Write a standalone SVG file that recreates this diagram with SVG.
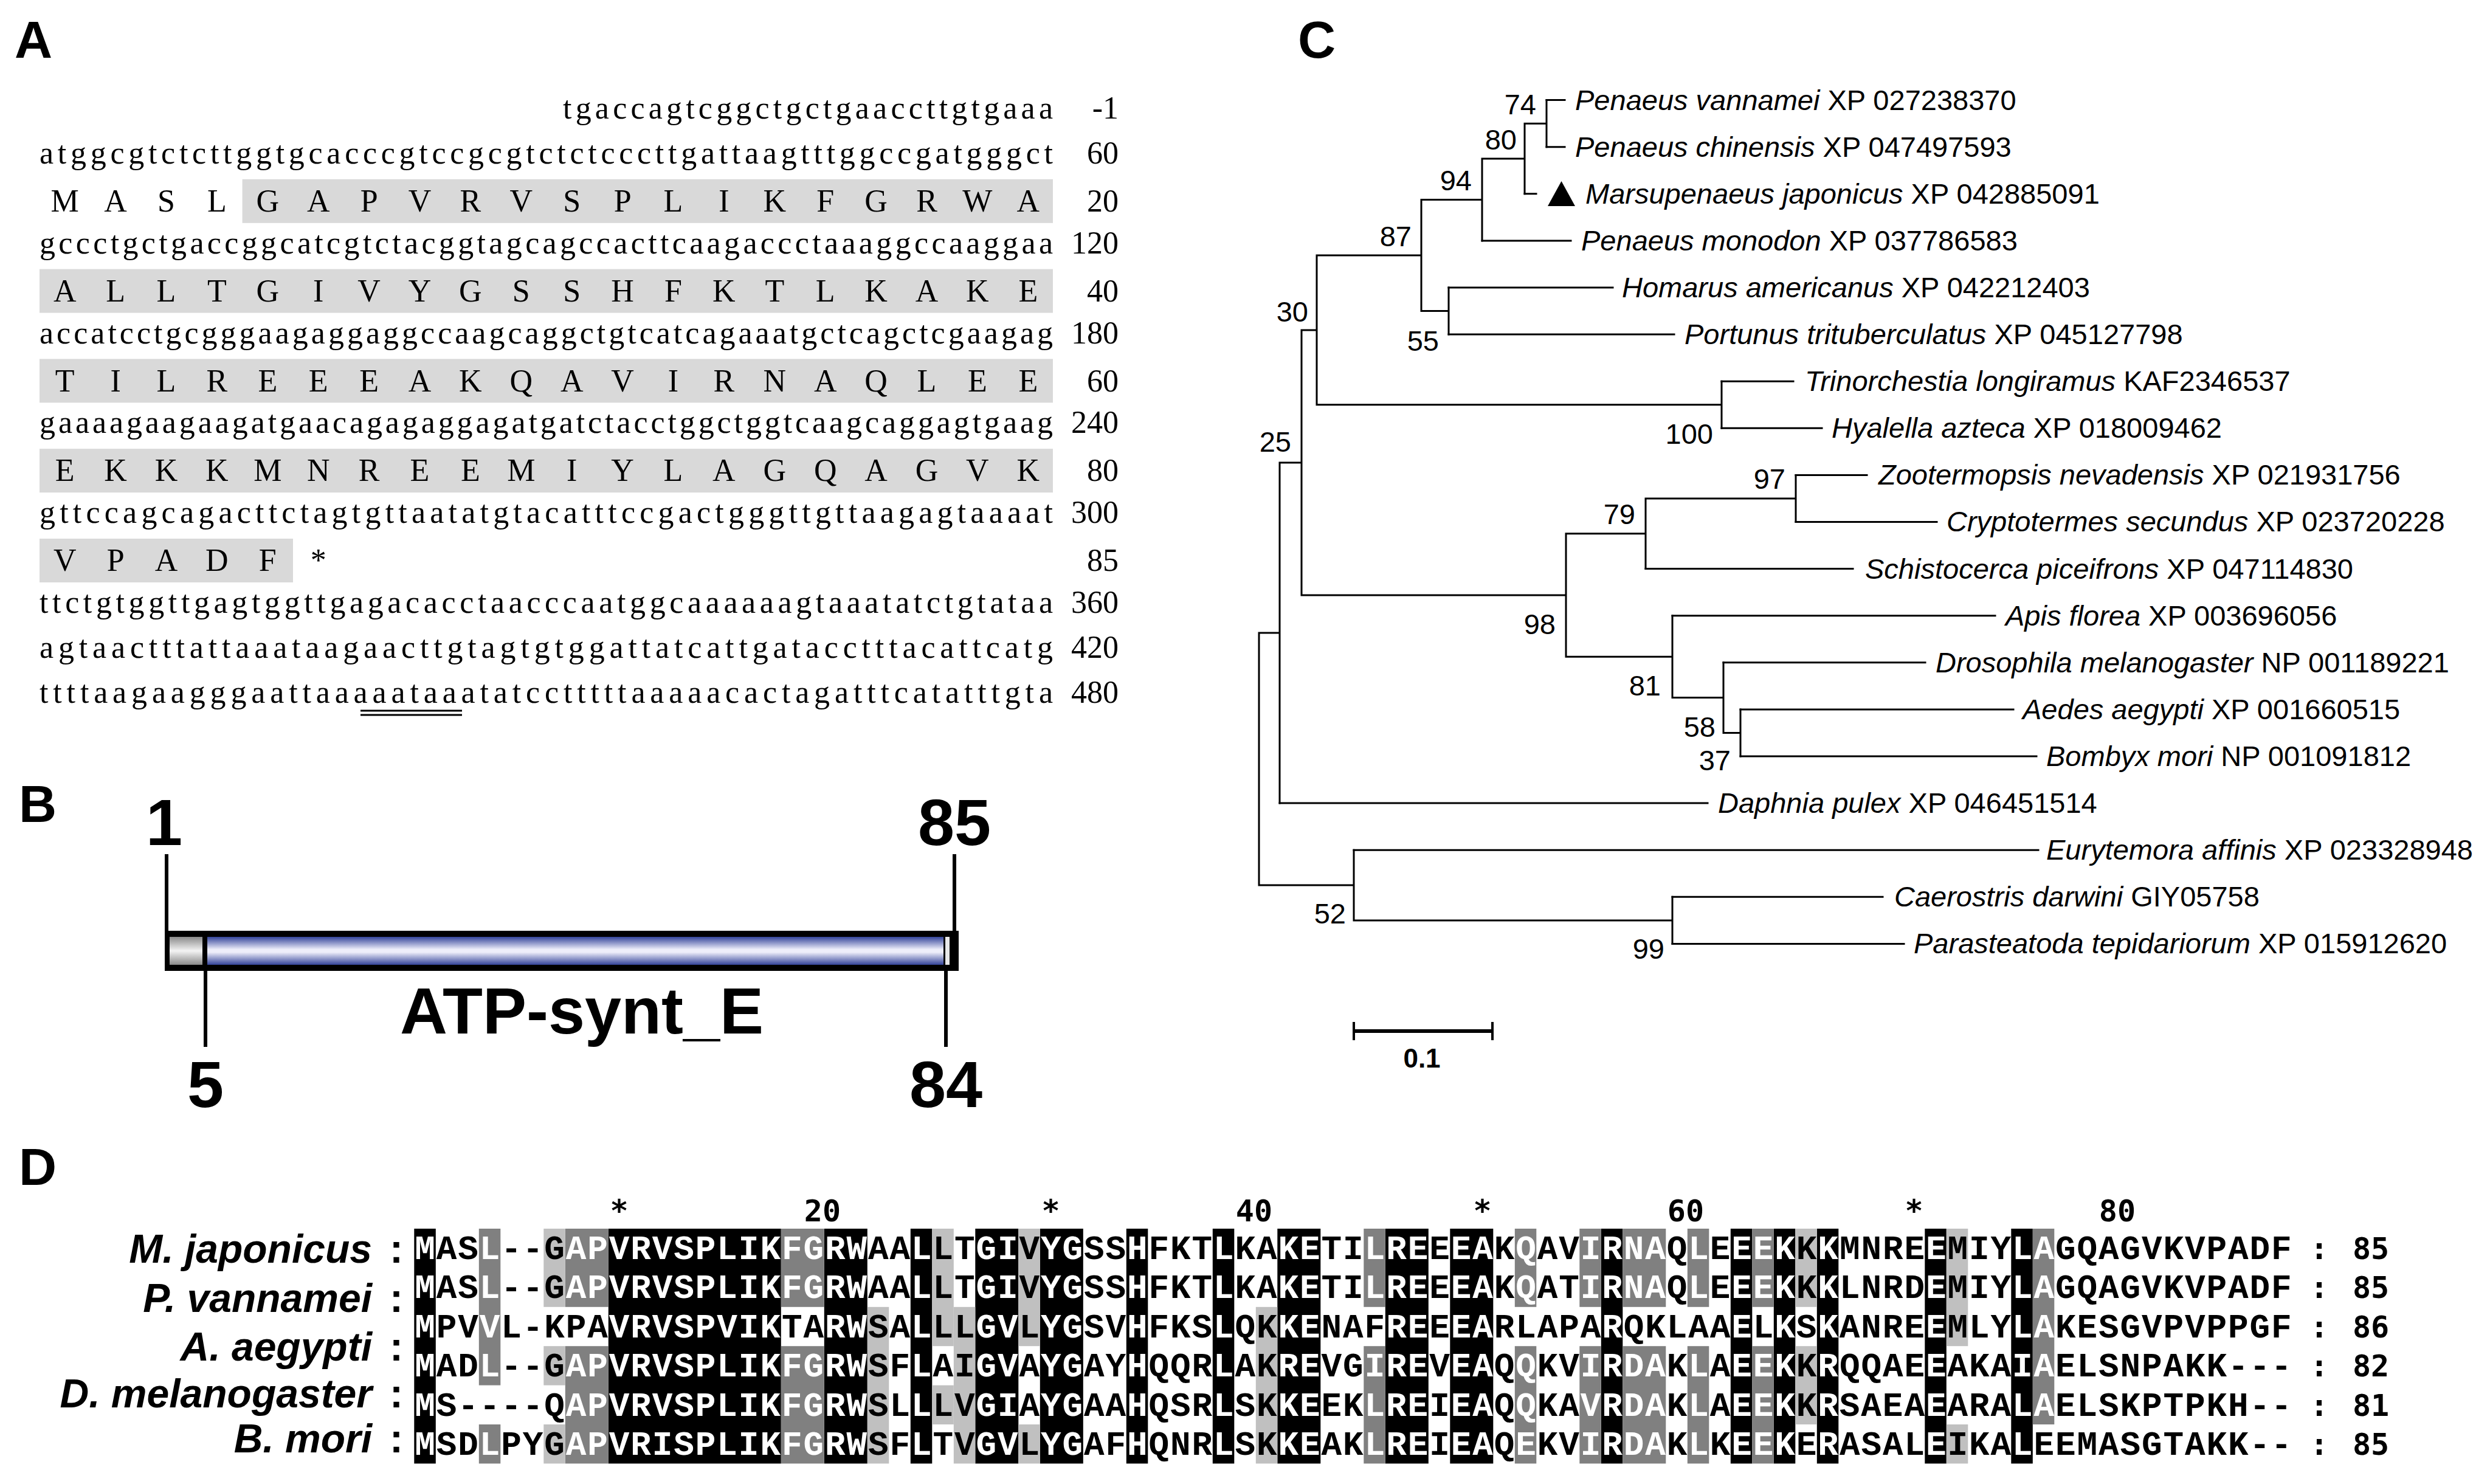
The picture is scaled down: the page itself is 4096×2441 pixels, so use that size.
<svg xmlns="http://www.w3.org/2000/svg" width="4096" height="2441" viewBox="0 0 4096 2441">
<defs>
<style>
.lab{font-family:"Liberation Sans",Arial,sans-serif;font-weight:bold;font-size:86px;fill:#000}
.nt{font-family:"Liberation Serif","Times New Roman",serif;font-size:52px;fill:#000}
.nr{font-family:"Liberation Serif","Times New Roman",serif;font-size:52px;fill:#000;text-anchor:end}
.aa{font-family:"Liberation Serif","Times New Roman",serif;font-size:52px;fill:#000;text-anchor:middle}
.box{fill:#d9d9d9}
.bnum{font-family:"Liberation Sans",Arial,sans-serif;font-weight:bold;font-size:108px;text-anchor:middle}
.bl{stroke:#000;stroke-width:6;fill:none}
.tr{fill:none;stroke:#000;stroke-width:3;stroke-linecap:square}
.tx{font-family:"Liberation Sans",Arial,sans-serif;font-size:47px;fill:#000}
.bs{font-family:"Liberation Sans",Arial,sans-serif;font-size:47px;fill:#000;text-anchor:end}
.sp{font-style:italic}
.res{font-family:"Liberation Mono","Courier New",monospace;font-weight:bold;font-size:56px;letter-spacing:1.9px;fill:#000}
.w{fill:#fff}
.bk{fill:#000}
.dg{fill:#808080}
.lg{fill:#c0c0c0}
.hd{font-family:"DejaVu Sans Mono",monospace;font-weight:bold;font-size:50px;fill:#000}
.sl{font-family:"Liberation Sans",Arial,sans-serif;font-weight:bold;font-style:italic;font-size:66px;text-anchor:end}
.col{font-family:"Liberation Sans",Arial,sans-serif;font-weight:bold;font-size:66px;text-anchor:middle}
</style>
<linearGradient id="blue" x1="0" y1="0" x2="0" y2="1">
<stop offset="0" stop-color="#34449a"/>
<stop offset="0.45" stop-color="#eeeefa"/>
<stop offset="0.55" stop-color="#eeeefa"/>
<stop offset="1" stop-color="#34449a"/>
</linearGradient>
<linearGradient id="gray" x1="0" y1="0" x2="0" y2="1">
<stop offset="0" stop-color="#8a8a8a"/>
<stop offset="0.5" stop-color="#f4f4f4"/>
<stop offset="1" stop-color="#8a8a8a"/>
</linearGradient>
</defs>
<rect width="4096" height="2441" fill="#fff"/>

<!-- Panel labels -->
<g id="panel-labels">
<text class="lab" x="24" y="95">A</text>
<text class="lab" x="31" y="1352">B</text>
<text class="lab" x="2135" y="95">C</text>
<text class="lab" x="31" y="1949">D</text>
</g>

<!-- Panel A: sequence -->
<g id="panelA">
<rect class="box" x="398.6" y="294.8" width="1333.4" height="72"/>
<rect class="box" x="65" y="442.6" width="1667" height="72"/>
<rect class="box" x="65" y="590.4" width="1667" height="72"/>
<rect class="box" x="65" y="738.2" width="1667" height="72"/>
<rect class="box" x="65" y="886" width="417" height="72"/>
<text class="nt" x="926" y="195" textLength="806" lengthAdjust="spacing">tgaccagtcggctgctgaaccttgtgaaa</text>
<text class="nr" x="1840" y="195">-1</text>
<text class="nt" x="65" y="269" textLength="1667" lengthAdjust="spacing">atggcgtctcttggtgcacccgtccgcgtctctcccttgattaagtttggccgatgggct</text>
<text class="nr" x="1840" y="269">60</text>
<text class="aa" x="106.7 190.1 273.5 356.9 440.3 523.7 607.1 690.5 773.9 857.3 940.7 1024.1 1107.5 1190.9 1274.3 1357.7 1441.1 1524.5 1607.9 1691.3" y="348">MASLGAPVRVSPLIKFGRWA</text>
<text class="nr" x="1840" y="348">20</text>
<text class="nt" x="65" y="417" textLength="1667" lengthAdjust="spacing">gccctgctgaccggcatcgtctacggtagcagccacttcaagaccctaaaggccaaggaa</text>
<text class="nr" x="1840" y="417">120</text>
<text class="aa" x="106.7 190.1 273.5 356.9 440.3 523.7 607.1 690.5 773.9 857.3 940.7 1024.1 1107.5 1190.9 1274.3 1357.7 1441.1 1524.5 1607.9 1691.3" y="496">ALLTGIVYGSSHFKTLKAKE</text>
<text class="nr" x="1840" y="496">40</text>
<text class="nt" x="65" y="564.5" textLength="1667" lengthAdjust="spacing">accatcctgcgggaagaggaggccaagcaggctgtcatcagaaatgctcagctcgaagag</text>
<text class="nr" x="1840" y="564.5">180</text>
<text class="aa" x="106.7 190.1 273.5 356.9 440.3 523.7 607.1 690.5 773.9 857.3 940.7 1024.1 1107.5 1190.9 1274.3 1357.7 1441.1 1524.5 1607.9 1691.3" y="643.5">TILREEEAKQAVIRNAQLEE</text>
<text class="nr" x="1840" y="643.5">60</text>
<text class="nt" x="65" y="712" textLength="1667" lengthAdjust="spacing">gaaaagaagaagatgaacagagaggagatgatctacctggctggtcaagcaggagtgaag</text>
<text class="nr" x="1840" y="712">240</text>
<text class="aa" x="106.7 190.1 273.5 356.9 440.3 523.7 607.1 690.5 773.9 857.3 940.7 1024.1 1107.5 1190.9 1274.3 1357.7 1441.1 1524.5 1607.9 1691.3" y="791">EKKKMNREEMIYLAGQAGVK</text>
<text class="nr" x="1840" y="791">80</text>
<text class="nt" x="65" y="860" textLength="1667" lengthAdjust="spacing">gttccagcagacttctagtgttaatatgtacatttccgactgggttgttaagagtaaaat</text>
<text class="nr" x="1840" y="860">300</text>
<text class="aa" x="106.7 190.1 273.5 356.9 440.3 523.7" y="939">VPADF*</text>
<text class="nr" x="1840" y="939">85</text>
<text class="nt" x="65" y="1008" textLength="1667" lengthAdjust="spacing">ttctgtggttgagtggttgagacacctaacccaatggcaaaaaagtaaatatctgtataa</text>
<text class="nr" x="1840" y="1008">360</text>
<text class="nt" x="65" y="1082" textLength="1667" lengthAdjust="spacing">agtaactttattaaataagaacttgtagtgtggattatcattgatacctttacattcatg</text>
<text class="nr" x="1840" y="1082">420</text>
<text class="nt" x="65" y="1156" textLength="1667" lengthAdjust="spacing">ttttaagaagggaattaaaaataaatatcctttttaaaaacactagatttcatatttgta</text>
<text class="nr" x="1840" y="1156">480</text>
<path d="M593 1169H760M593 1176H760" stroke="#000" stroke-width="3"/>
</g>

<!-- Panel B: domain -->
<g id="panelB">
<text class="bnum" x="270" y="1390">1</text>
<text class="bnum" x="1570" y="1390">85</text>
<path class="bl" d="M274 1405V1531M1570 1405V1531M338 1597V1722M1556 1597V1722"/>
<rect x="271" y="1531" width="1306" height="66" fill="#000"/>
<rect x="279" y="1541" width="54" height="46" fill="url(#gray)"/>
<rect x="341" y="1541" width="1211" height="46" fill="url(#blue)"/>
<rect x="1555" y="1541" width="7" height="46" fill="#e8e8e8"/>
<text class="bnum" x="957" y="1700">ATP-synt_E</text>
<text class="bnum" x="338" y="1821">5</text>
<text class="bnum" x="1556" y="1821">84</text>
</g>

<!-- Panel C: tree -->
<g id="connectors">
<path class="tr" d="M2071 1041V1456 M2071 1041H2105 M2105 761V1321.1 M2071 1456H2227 M2227 1398.2V1513.9 M2105 761H2141 M2141 542.9V979 M2141 542.9H2166 M2166 420V665.8 M2166 420H2338 M2338 328.4V511.6 M2338 328.4H2438 M2438 261V395.9 M2438 261H2508 M2508 203.2V318.8 M2508 203.2H2544 M2544 164.6V241.7 M2338 511.6H2383 M2383 473V550.1 M2166 665.8H2832 M2832 627.2V704.3 M2141 979H2576 M2576 877.8V1080.2 M2576 877.8H2707 M2707 820V935.6 M2707 820H2954 M2954 781.4V858.5 M2576 1080.2H2751 M2751 1012.7V1147.6 M2751 1147.6H2835 M2835 1089.8V1205.5 M2835 1205.5H2863 M2863 1166.9V1244 M2227 1513.9H2751 M2751 1475.3V1552.4"/>
<path class="tr" d="M2544 164.6H2574 M2544 241.7H2574 M2508 318.8H2527 M2438 395.9H2584 M2383 473H2653 M2383 550.1H2754 M2832 627.2H2950 M2832 704.3H2997 M2954 781.4H3071 M2954 858.5H3186 M2707 935.6H3048 M2751 1012.7H3282 M2835 1089.8H3167 M2863 1166.9H3312 M2863 1244H3350 M2105 1321.1H2809 M2227 1398.2H3353 M2751 1475.3H3097 M2751 1552.4H3132"/>
</g>
<g id="tree-labels">
<g id="taxa">
<text class="tx" x="2591" y="181"><tspan class="sp">Penaeus vannamei</tspan> XP 027238370</text>
<text class="tx" x="2591" y="258"><tspan class="sp">Penaeus chinensis</tspan> XP 047497593</text>
<polygon points="2546,339 2591,339 2568.5,298" fill="#000"/>
<text class="tx" x="2608" y="335"><tspan class="sp">Marsupenaeus japonicus</tspan> XP 042885091</text>
<text class="tx" x="2601" y="412"><tspan class="sp">Penaeus monodon</tspan> XP 037786583</text>
<text class="tx" x="2668" y="489"><tspan class="sp">Homarus americanus</tspan> XP 042212403</text>
<text class="tx" x="2771" y="566"><tspan class="sp">Portunus trituberculatus</tspan> XP 045127798</text>
<text class="tx" x="2969" y="643"><tspan class="sp">Trinorchestia longiramus</tspan> KAF2346537</text>
<text class="tx" x="3013" y="720"><tspan class="sp">Hyalella azteca</tspan> XP 018009462</text>
<text class="tx" x="3090" y="797"><tspan class="sp">Zootermopsis nevadensis</tspan> XP 021931756</text>
<text class="tx" x="3202" y="874"><tspan class="sp">Cryptotermes secundus</tspan> XP 023720228</text>
<text class="tx" x="3068" y="952"><tspan class="sp">Schistocerca piceifrons</tspan> XP 047114830</text>
<text class="tx" x="3299" y="1029"><tspan class="sp">Apis florea</tspan> XP 003696056</text>
<text class="tx" x="3184" y="1106"><tspan class="sp">Drosophila melanogaster</tspan> NP 001189221</text>
<text class="tx" x="3327" y="1183"><tspan class="sp">Aedes aegypti</tspan> XP 001660515</text>
<text class="tx" x="3366" y="1260"><tspan class="sp">Bombyx mori</tspan> NP 001091812</text>
<text class="tx" x="2826" y="1337"><tspan class="sp">Daphnia pulex</tspan> XP 046451514</text>
<text class="tx" x="3366" y="1414"><tspan class="sp">Eurytemora affinis</tspan> XP 023328948</text>
<text class="tx" x="3116" y="1491"><tspan class="sp">Caerostris darwini</tspan> GIY05758</text>
<text class="tx" x="3148" y="1568"><tspan class="sp">Parasteatoda tepidariorum</tspan> XP 015912620</text>
</g>
<g id="bootstrap">
<text class="bs" x="2527" y="188">74</text>
<text class="bs" x="2495" y="246">80</text>
<text class="bs" x="2421" y="313">94</text>
<text class="bs" x="2322" y="405">87</text>
<text class="bs" x="2367" y="577">55</text>
<text class="bs" x="2152" y="529">30</text>
<text class="bs" x="2124" y="743">25</text>
<text class="bs" x="2818" y="730">100</text>
<text class="bs" x="2937" y="804">97</text>
<text class="bs" x="2690" y="862">79</text>
<text class="bs" x="2559" y="1043">98</text>
<text class="bs" x="2732" y="1144">81</text>
<text class="bs" x="2822" y="1212">58</text>
<text class="bs" x="2847" y="1267">37</text>
<text class="bs" x="2214" y="1519">52</text>
<text class="bs" x="2738" y="1577">99</text>
</g>
<g id="scalebar">
<path d="M2227 1696H2455" stroke="#000" stroke-width="6"/>
<path d="M2227 1681V1711M2455 1681V1711" stroke="#000" stroke-width="4"/>
<text x="2339" y="1756" font-family="Liberation Sans, Arial, sans-serif" font-weight="bold" font-size="44" text-anchor="middle">0.1</text>
</g>
</g>

<!-- Panel D: alignment -->
<g id="panelD">
<g id="shading">
<rect class="bk" x="681.3" y="2021" width="35.5" height="386.4"/>
<rect class="bk" x="1000.8" y="2021" width="284" height="386.4"/>
<rect class="bk" x="1355.8" y="2021" width="71" height="386.4"/>
<rect class="bk" x="1497.8" y="2021" width="35.5" height="386.4"/>
<rect class="bk" x="1604.3" y="2021" width="71" height="386.4"/>
<rect class="bk" x="1710.8" y="2021" width="71" height="386.4"/>
<rect class="bk" x="1852.8" y="2021" width="35.5" height="386.4"/>
<rect class="bk" x="1994.8" y="2021" width="35.5" height="386.4"/>
<rect class="bk" x="2101.3" y="2021" width="71" height="386.4"/>
<rect class="bk" x="2278.8" y="2021" width="71" height="386.4"/>
<rect class="bk" x="2385.3" y="2021" width="71" height="386.4"/>
<rect class="bk" x="2633.8" y="2021" width="35.5" height="386.4"/>
<rect class="bk" x="2846.8" y="2021" width="35.5" height="386.4"/>
<rect class="bk" x="2917.8" y="2021" width="35.5" height="386.4"/>
<rect class="bk" x="2988.8" y="2021" width="35.5" height="386.4"/>
<rect class="bk" x="3166.3" y="2021" width="35.5" height="386.4"/>
<rect class="bk" x="3308.3" y="2021" width="35.5" height="386.4"/>
<rect class="dg" x="787.8" y="2021" width="35.5" height="257.6"/>
<rect class="dg" x="787.8" y="2343" width="35.5" height="64.4"/>
<rect class="dg" x="929.8" y="2021" width="71" height="128.8"/>
<rect class="dg" x="929.8" y="2214.2" width="71" height="193.2"/>
<rect class="dg" x="1284.8" y="2021" width="71" height="128.8"/>
<rect class="dg" x="1284.8" y="2214.2" width="71" height="193.2"/>
<rect class="dg" x="2243.3" y="2021" width="35.5" height="128.8"/>
<rect class="dg" x="2243.3" y="2214.2" width="35.5" height="193.2"/>
<rect class="dg" x="2491.8" y="2021" width="35.5" height="128.8"/>
<rect class="dg" x="2491.8" y="2214.2" width="35.5" height="193.2"/>
<rect class="dg" x="2598.3" y="2021" width="35.5" height="128.8"/>
<rect class="dg" x="2598.3" y="2214.2" width="35.5" height="193.2"/>
<rect class="dg" x="2669.3" y="2021" width="71" height="128.8"/>
<rect class="dg" x="2669.3" y="2214.2" width="71" height="193.2"/>
<rect class="dg" x="2775.8" y="2021" width="35.5" height="128.8"/>
<rect class="dg" x="2775.8" y="2214.2" width="35.5" height="193.2"/>
<rect class="dg" x="2882.3" y="2021" width="35.5" height="128.8"/>
<rect class="dg" x="2882.3" y="2214.2" width="35.5" height="193.2"/>
<rect class="dg" x="3343.8" y="2021" width="35.5" height="322"/>
<rect class="lg" x="894.3" y="2021" width="35.5" height="128.8"/>
<rect class="lg" x="894.3" y="2214.2" width="35.5" height="64.4"/>
<rect class="lg" x="894.3" y="2343" width="35.5" height="64.4"/>
<rect class="lg" x="1426.8" y="2149.8" width="35.5" height="257.6"/>
<rect class="lg" x="1533.3" y="2021" width="35.5" height="193.2"/>
<rect class="lg" x="1533.3" y="2278.6" width="35.5" height="64.4"/>
<rect class="lg" x="1568.8" y="2149.8" width="35.5" height="257.6"/>
<rect class="lg" x="1675.3" y="2021" width="35.5" height="193.2"/>
<rect class="lg" x="1675.3" y="2343" width="35.5" height="64.4"/>
<rect class="lg" x="2065.8" y="2149.8" width="35.5" height="257.6"/>
<rect class="lg" x="2953.3" y="2021" width="35.5" height="128.8"/>
<rect class="lg" x="2953.3" y="2214.2" width="35.5" height="128.8"/>
<rect class="lg" x="3201.8" y="2021" width="35.5" height="193.2"/>
<rect class="lg" x="3201.8" y="2343" width="35.5" height="64.4"/>
</g>
<g id="header">
<text class="hd" x="1018.6" y="2009" text-anchor="middle">*</text>
<text class="hd" x="1383" y="2009" text-anchor="end">20</text>
<text class="hd" x="1728.6" y="2009" text-anchor="middle">*</text>
<text class="hd" x="2093" y="2009" text-anchor="end">40</text>
<text class="hd" x="2438.6" y="2009" text-anchor="middle">*</text>
<text class="hd" x="2803" y="2009" text-anchor="end">60</text>
<text class="hd" x="3148.6" y="2009" text-anchor="middle">*</text>
<text class="hd" x="3513" y="2009" text-anchor="end">80</text>
</g>
<g id="species">
<text class="sl" x="612" y="2077">M. japonicus</text>
<text class="col" x="652" y="2077">:</text>
<text class="sl" x="612" y="2158">P. vannamei</text>
<text class="col" x="652" y="2158">:</text>
<text class="sl" x="612" y="2238">A. aegypti</text>
<text class="col" x="652" y="2238">:</text>
<text class="sl" x="612" y="2315">D. melanogaster</text>
<text class="col" x="652" y="2315">:</text>
<text class="sl" x="612" y="2389">B. mori</text>
<text class="col" x="652" y="2389">:</text>
</g>
<g id="sequences">
<text class="res" x="682.25" y="2071"><tspan class="w">M</tspan>AS<tspan class="w">L</tspan>--G<tspan class="w">APVRVSPLIKFGRW</tspan>AA<tspan class="w">L</tspan>LT<tspan class="w">GI</tspan>V<tspan class="w">YG</tspan>SS<tspan class="w">H</tspan>FKT<tspan class="w">L</tspan>KA<tspan class="w">KE</tspan>TI<tspan class="w">LRE</tspan>E<tspan class="w">EA</tspan>K<tspan class="w">Q</tspan>AV<tspan class="w">IRNA</tspan>Q<tspan class="w">L</tspan>E<tspan class="w">EEK</tspan>K<tspan class="w">K</tspan>MNRE<tspan class="w">E</tspan>MIY<tspan class="w">LA</tspan>GQAGVKVPADF</text>
<text class="res" x="682.25" y="2135"><tspan class="w">M</tspan>AS<tspan class="w">L</tspan>--G<tspan class="w">APVRVSPLIKFGRW</tspan>AA<tspan class="w">L</tspan>LT<tspan class="w">GI</tspan>V<tspan class="w">YG</tspan>SS<tspan class="w">H</tspan>FKT<tspan class="w">L</tspan>KA<tspan class="w">KE</tspan>TI<tspan class="w">LRE</tspan>E<tspan class="w">EA</tspan>K<tspan class="w">Q</tspan>AT<tspan class="w">IRNA</tspan>Q<tspan class="w">L</tspan>E<tspan class="w">EEK</tspan>K<tspan class="w">K</tspan>LNRD<tspan class="w">E</tspan>MIY<tspan class="w">LA</tspan>GQAGVKVPADF</text>
<text class="res" x="682.25" y="2200"><tspan class="w">M</tspan>PV<tspan class="w">V</tspan>L-KPA<tspan class="w">VRVSPVIK</tspan>TA<tspan class="w">RW</tspan>SA<tspan class="w">L</tspan>LL<tspan class="w">GV</tspan>L<tspan class="w">YG</tspan>SV<tspan class="w">H</tspan>FKS<tspan class="w">L</tspan>QK<tspan class="w">KE</tspan>NAF<tspan class="w">RE</tspan>E<tspan class="w">EA</tspan>RLAPA<tspan class="w">R</tspan>QKLAA<tspan class="w">E</tspan>L<tspan class="w">K</tspan>S<tspan class="w">K</tspan>ANRE<tspan class="w">E</tspan>MLY<tspan class="w">LA</tspan>KESGVPVPPGF</text>
<text class="res" x="682.25" y="2264"><tspan class="w">M</tspan>AD<tspan class="w">L</tspan>--G<tspan class="w">APVRVSPLIKFGRW</tspan>SF<tspan class="w">L</tspan>AI<tspan class="w">GV</tspan>A<tspan class="w">YG</tspan>AY<tspan class="w">H</tspan>QQR<tspan class="w">L</tspan>AK<tspan class="w">RE</tspan>VG<tspan class="w">IRE</tspan>V<tspan class="w">EA</tspan>Q<tspan class="w">Q</tspan>KV<tspan class="w">IRDA</tspan>K<tspan class="w">L</tspan>A<tspan class="w">EEK</tspan>K<tspan class="w">R</tspan>QQAE<tspan class="w">E</tspan>AKA<tspan class="w">IA</tspan>ELSNPAKK---</text>
<text class="res" x="682.25" y="2329"><tspan class="w">M</tspan>S----Q<tspan class="w">APVRVSPLIKFGRW</tspan>SL<tspan class="w">L</tspan>LV<tspan class="w">GI</tspan>A<tspan class="w">YG</tspan>AA<tspan class="w">H</tspan>QSR<tspan class="w">L</tspan>SK<tspan class="w">KE</tspan>EK<tspan class="w">LRE</tspan>I<tspan class="w">EA</tspan>Q<tspan class="w">Q</tspan>KA<tspan class="w">VRDA</tspan>K<tspan class="w">L</tspan>A<tspan class="w">EEK</tspan>K<tspan class="w">R</tspan>SAEA<tspan class="w">E</tspan>ARA<tspan class="w">LA</tspan>ELSKPTPKH--</text>
<text class="res" x="682.25" y="2393"><tspan class="w">M</tspan>SD<tspan class="w">L</tspan>PYG<tspan class="w">APVRISPLIKFGRW</tspan>SF<tspan class="w">L</tspan>TV<tspan class="w">GV</tspan>L<tspan class="w">YG</tspan>AF<tspan class="w">H</tspan>QNR<tspan class="w">L</tspan>SK<tspan class="w">KE</tspan>AK<tspan class="w">LRE</tspan>I<tspan class="w">EA</tspan>Q<tspan class="w">E</tspan>KV<tspan class="w">IRDA</tspan>K<tspan class="w">L</tspan>K<tspan class="w">EEK</tspan>E<tspan class="w">R</tspan>ASAL<tspan class="w">E</tspan>IKA<tspan class="w">L</tspan>EEMASGTAKK--</text>
</g>
<g id="tail">
<text class="hd" x="3815" y="2071" text-anchor="middle">:</text><text class="hd" x="3870" y="2071">85</text>
<text class="hd" x="3815" y="2135" text-anchor="middle">:</text><text class="hd" x="3870" y="2135">85</text>
<text class="hd" x="3815" y="2200" text-anchor="middle">:</text><text class="hd" x="3870" y="2200">86</text>
<text class="hd" x="3815" y="2264" text-anchor="middle">:</text><text class="hd" x="3870" y="2264">82</text>
<text class="hd" x="3815" y="2329" text-anchor="middle">:</text><text class="hd" x="3870" y="2329">81</text>
<text class="hd" x="3815" y="2393" text-anchor="middle">:</text><text class="hd" x="3870" y="2393">85</text>
</g>
</g>
</svg>
